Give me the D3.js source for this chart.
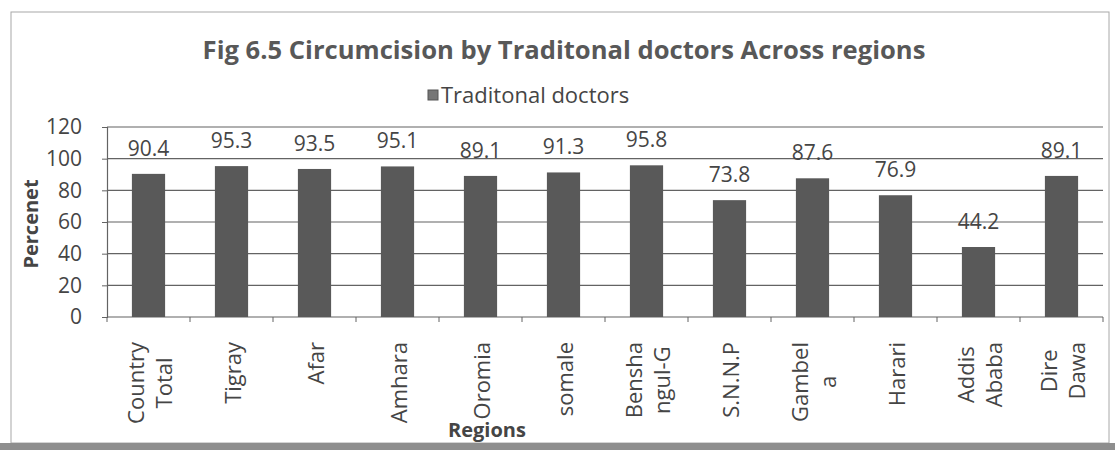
<!DOCTYPE html>
<html>
<head>
<meta charset="utf-8">
<script src="https://cdn.jsdelivr.net/npm/d3@7/dist/d3.min.js"></script>
<style>
  body { margin: 0; background: #fff; }
  svg text { font-family: "Open Sans", "DejaVu Sans", sans-serif; }
</style>
</head>
<body>
<svg id="svgChart" width="1115" height="450"></svg>
<script>
var categories = ["Country\nTotal", "Tigray", "Afar", "Amhara", "Oromia", "somale",
  "Bensha\nngul-G", "S.N.N.P", "Gambel\na", "Harari", "Addis\nAbaba", "Dire\nDawa"];
var values = [90.4, 95.3, 93.5, 95.1, 89.1, 91.3, 95.8, 73.8, 87.6, 76.9, 44.2, 89.1];
var yTicks = [0, 20, 40, 60, 80, 100, 120];
var seriesName = "Traditonal doctors";
var chartTitle = "Fig 6.5 Circumcision by Traditonal doctors Across regions";

var textColor = "#454545",
  gridColor = "#636363",
  barColor = "#595959";

function makeChart() {
  /*  Draws the bar chart.  */
  var svg = d3.select("#svgChart"),
    width = +svg.attr("width"),
    height = +svg.attr("height");

  var margin = {left: 107, right: 12, top: 127, bottom: 133};

  var x = d3.scaleBand()
    .domain(categories)
    .range([margin.left, width - margin.right])
    .paddingInner(0.6)
    .paddingOuter(0.3);

  var y = d3.scaleLinear()
    .domain([0, 120])
    .range([height - margin.bottom, margin.top]);

  // frame of the chart area and the dark edge of the scan
  svg.append("rect")
    .attr("x", 11).attr("y", 12)
    .attr("width", width - 17).attr("height", 431)
    .attr("fill", "#fff")
    .attr("stroke", "#a8a8a8");
  svg.append("rect")
    .attr("x", 0).attr("y", 443)
    .attr("width", width).attr("height", height - 443)
    .attr("fill", "#8e8e8e");

  // gridlines
  svg.append("g").selectAll("line")
    .data(yTicks.slice(1))
    .enter().append("line")
    .attr("x1", x.range()[0]).attr("x2", x.range()[1])
    .attr("y1", function(d) { return y(d); })
    .attr("y2", function(d) { return y(d); })
    .attr("stroke", gridColor)
    .attr("stroke-width", 1.2);

  // y axis
  var yAxis = svg.append("g")
    .attr("transform", "translate(" + margin.left + ",0)")
    .call(d3.axisLeft(y).tickValues(yTicks).tickSize(5).tickPadding(20));
  yAxis.select(".domain").attr("stroke", gridColor).attr("stroke-width", 1.2);
  yAxis.selectAll(".tick line").attr("stroke", gridColor);
  yAxis.selectAll(".tick text")
    .attr("fill", textColor)
    .style("font-size", "21px");

  // x axis line and the ticks between the categories
  var step = x.step();
  var bounds = categories.map(function(c) { return x(c) - step * x.paddingOuter(); });
  bounds.push(x.range()[1]);

  svg.append("line")
    .attr("x1", x.range()[0]).attr("x2", x.range()[1])
    .attr("y1", y(0)).attr("y2", y(0))
    .attr("stroke", gridColor)
    .attr("stroke-width", 1.2);
  svg.append("g").selectAll("line")
    .data(bounds)
    .enter().append("line")
    .attr("x1", function(d) { return d; })
    .attr("x2", function(d) { return d; })
    .attr("y1", y(0)).attr("y2", y(0) + 5)
    .attr("stroke", gridColor);

  // bars
  svg.append("g").selectAll("rect")
    .data(values)
    .enter().append("rect")
    .attr("x", function(d, i) { return x(categories[i]); })
    .attr("y", function(d) { return y(d); })
    .attr("width", x.bandwidth())
    .attr("height", function(d) { return y(0) - y(d); })
    .attr("fill", barColor);

  // value labels
  svg.append("g").selectAll("text")
    .data(values)
    .enter().append("text")
    .attr("x", function(d, i) { return x(categories[i]) + x.bandwidth() / 2; })
    .attr("y", function(d) { return y(d) - 18; })
    .attr("text-anchor", "middle")
    .attr("fill", textColor)
    .style("font-size", "21px")
    .text(function(d) { return d.toFixed(1); });

  // category labels, rotated, lines centred inside a top aligned block
  var labelTop = y(0) + 25,
    lineHeight = 28;
  categories.forEach(function(c) {
    var lines = c.split("\n"),
      cx = x(c) + x.bandwidth() / 2;
    var g = svg.append("g");
    var texts = g.selectAll("text")
      .data(lines)
      .enter().append("text")
      .attr("text-anchor", "middle")
      .attr("dominant-baseline", "central")
      .attr("fill", textColor)
      .style("font-size", "22px")
      .text(function(d) { return d; });
    var maxLen = d3.max(texts.nodes(), function(n) { return n.getComputedTextLength(); });
    texts.attr("transform", function(d, i) {
      var lx = cx + (i - (lines.length - 1) / 2) * lineHeight;
      return "translate(" + lx + "," + (labelTop + maxLen / 2) + ") rotate(-90)";
    });
  });

  // axis titles
  svg.append("text")
    .attr("transform", "translate(38," + ((y(0) + y(120)) / 2 + 2) + ") rotate(-90)")
    .attr("text-anchor", "middle")
    .attr("fill", textColor)
    .style("font-size", "20px")
    .style("font-weight", "bold")
    .text("Percenet");

  svg.append("text")
    .attr("x", 487).attr("y", 437)
    .attr("text-anchor", "middle")
    .attr("fill", textColor)
    .style("font-size", "20px")
    .style("font-weight", "bold")
    .text("Regions");

  // title
  svg.append("text")
    .attr("x", 564).attr("y", 59)
    .attr("text-anchor", "middle")
    .attr("fill", "#585858")
    .style("font-size", "25.6px")
    .style("font-weight", "bold")
    .text(chartTitle);

  // legend
  var legend = svg.append("g").attr("transform", "translate(428,90)");
  legend.append("rect")
    .attr("width", 10).attr("height", 10)
    .attr("fill", "#767676")
    .attr("stroke", "#555");
  legend.append("text")
    .attr("x", 13).attr("y", 13)
    .attr("fill", textColor)
    .style("font-size", "22px")
    .text(seriesName);
}

makeChart();
</script>
</body>
</html>
